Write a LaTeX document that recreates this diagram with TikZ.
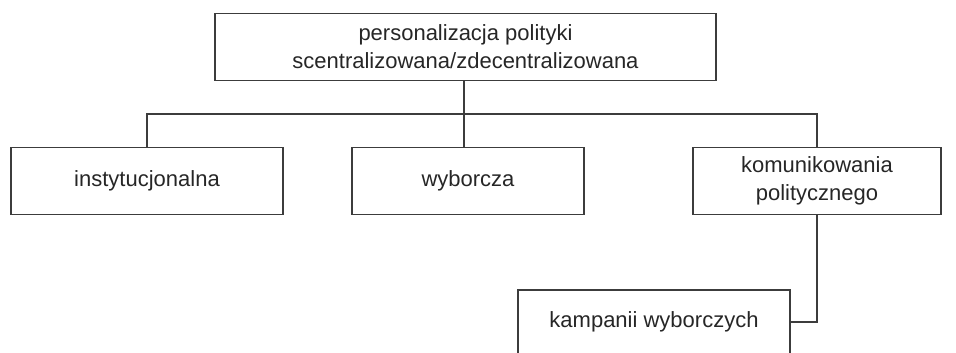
\documentclass[tikz,border=0pt]{standalone}
\usepackage{fontspec}
\setmainfont{Liberation Sans}
\definecolor{linec}{HTML}{3C3C3C}
\definecolor{textc}{HTML}{262626}
\begin{document}
\begin{tikzpicture}[x=1pt,y=-1pt,
  box/.style={draw=linec, line width=1.6pt, inner sep=0pt, align=center,
    text=textc, font=\fontsize{22}{28}\selectfont},
  conn/.style={draw=linec, line width=1.6pt}]
\path[use as bounding box, clip] (0,0) rectangle (956,353);
\node[box, minimum width=501pt, minimum height=67pt] (top) at (465.5,47)
  {personalizacja polityki\\scentralizowana/zdecentralizowana};
\node[box, minimum width=272pt, minimum height=67pt] (inst) at (147,181) {instytucjonalna};
\node[box, minimum width=232pt, minimum height=67pt] (wyb) at (468,181) {wyborcza};
\node[box, minimum width=248pt, minimum height=67pt] (kom) at (817,181)
  {komunikowania\\politycznego};
\node[box, minimum width=272pt, minimum height=64pt] (kamp) at (654,322) {kampanii wyborczych};
\coordinate (j) at (464,114);
\draw[conn] (j |- top.south) -- (j |- wyb.north);
\draw[conn] (inst.north) |- (j) -| (kom.north);
\draw[conn] (kom.south) |- (kamp.east);
\end{tikzpicture}
\end{document}
